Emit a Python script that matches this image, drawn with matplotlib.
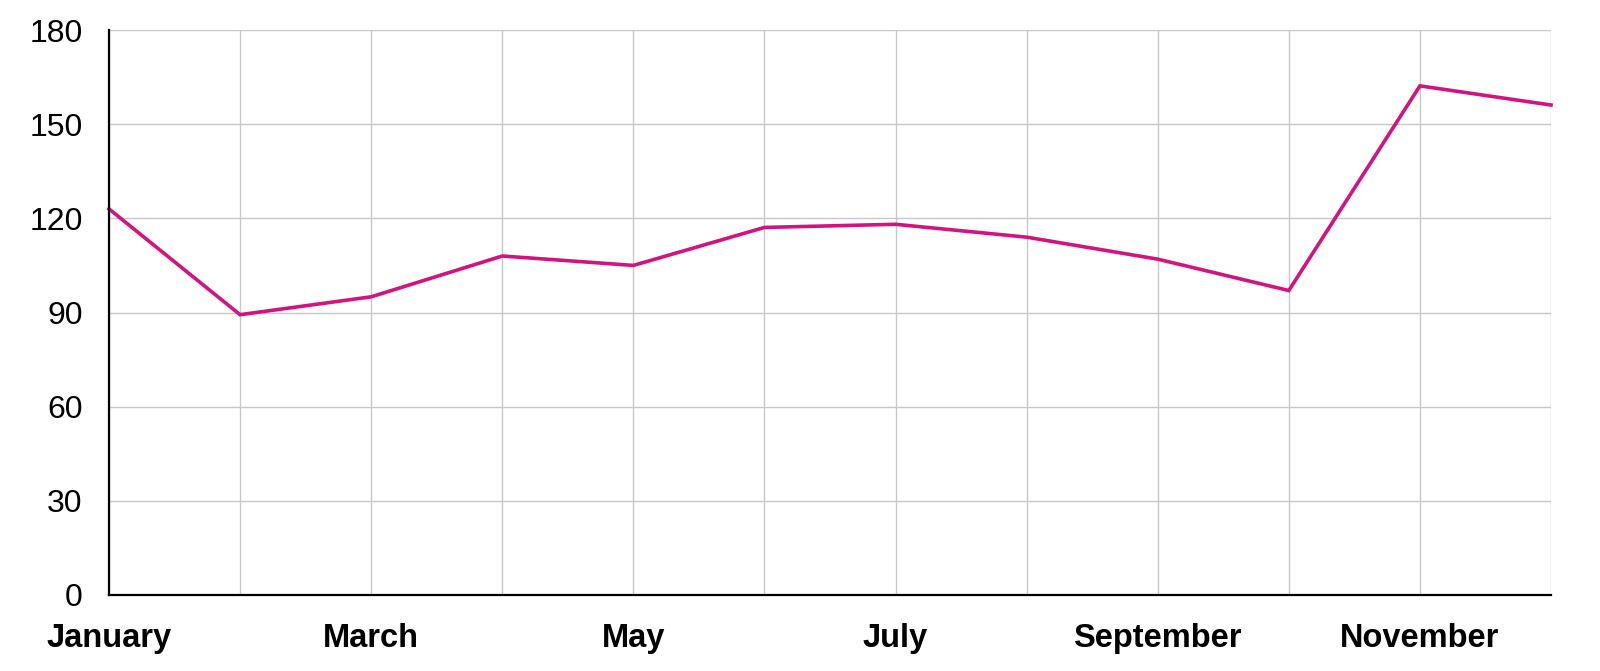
import matplotlib
matplotlib.use("Agg")
import matplotlib.pyplot as plt

months = ["January", "February", "March", "April", "May", "June", "July",
          "August", "September", "October", "November", "December"]
values = [123, 89.3, 95, 108, 105, 117.1, 118.1, 114, 107, 97, 162.2, 156.1]
y_ticks = [0, 30, 60, 90, 120, 150, 180]

plt.rcParams['font.family'] = ['Liberation Sans', 'DejaVu Sans']
plt.rcParams['ytick.major.pad'] = 19
plt.rcParams['xtick.major.pad'] = 20
plt.rcParams['xtick.major.size'] = 0
plt.rcParams['ytick.major.size'] = 0

fig = plt.figure(figsize=(16, 6.71), dpi=100)
ax = fig.add_axes([109/1600, 1 - 595/671, (1551-109)/1600, (595-30)/671])

x = list(range(len(months)))
ax.plot(x, values, color="#D3137E", linewidth=2.6, solid_joinstyle="miter", zorder=3, clip_on=False)

ax.set_xlim(0, len(months) - 1)
ax.set_ylim(0, 180)
ax.set_yticks(y_ticks)
ax.set_yticklabels([str(v) for v in y_ticks], fontsize=23)
ax.set_xticks(x)
ax.set_xticklabels([m if i % 2 == 0 else "" for i, m in enumerate(months)],
                   fontsize=23.5, fontweight="bold")

ax.grid(True, color="#c8c8c8", linewidth=1.0, zorder=0)
for s in ["top", "right"]:
    ax.spines[s].set_visible(False)
for s in ["left", "bottom"]:
    ax.spines[s].set_color("black")
    ax.spines[s].set_linewidth(1.6)
    ax.spines[s].set_zorder(4)

fig.savefig("out.png", dpi=100)
